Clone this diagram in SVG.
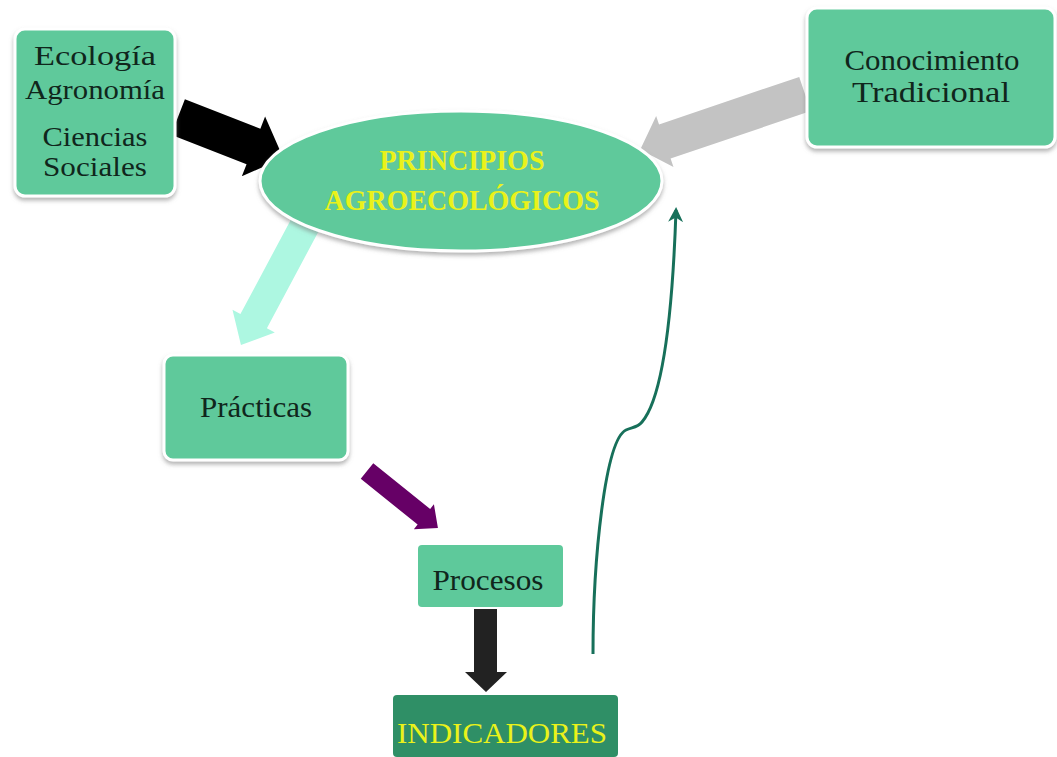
<svg xmlns="http://www.w3.org/2000/svg" width="1057" height="757" viewBox="0 0 1057 757">
<defs>
<filter id="sh" x="-20%" y="-20%" width="140%" height="150%">
<feDropShadow dx="0" dy="3" stdDeviation="2" flood-color="#777" flood-opacity="0.55"/>
</filter>
<marker id="ah" viewBox="0 0 10 10" refX="8" refY="5" markerWidth="5" markerHeight="5" orient="auto" markerUnits="strokeWidth">
<path d="M0,0 L10,5 L0,10 L3,5 Z" fill="#17705a"/>
</marker>
<style>
.node{fill:#5ec99b;stroke:#fff;stroke-width:3;filter:url(#sh)}
.t{font-family:"Liberation Serif","Times New Roman",serif;font-size:30px;fill:#10261c;text-anchor:middle}
.s{font-size:27px}
.y{font-family:"Liberation Serif","Times New Roman",serif;font-size:30px;fill:#eaf21a;text-anchor:middle}
.b{font-weight:bold}
</style>
</defs>
<rect width="1057" height="757" fill="#fff"/>
<g id="connectors">
<polygon points="0,-19 81,-19 81,-32 113,0 81,32 81,19 0,19" fill="#000" transform="translate(178,117) rotate(21.3)"/>
<polygon points="0,-18 148,-18 148,-27 174,0 148,27 148,18 0,18" fill="#c3c3c3" transform="translate(805,94) rotate(161.3)"/>
<polygon points="0,-15 109,-15 109,-24 136,0 109,24 109,15 0,15" fill="#adf7e1" transform="translate(305,225) rotate(118.1)"/>
<polygon points="0,-10 73,-10 73,-16 91,0 73,16 73,10 0,10" fill="#660066" transform="translate(367,471) rotate(38.8)"/>
<polygon points="474,609 497,609 497,672 507,672 486,692 465,672 474,672" fill="#222"/>
<path d="M593,654 C593,560 605,440 626,430 C632,427 637,428 642,422 C665,395 673,300 676,210" fill="none" stroke="#17705a" stroke-width="3" marker-end="url(#ah)"/>
</g>
<g id="n-ecologia">
<rect class="node" x="15" y="29" width="160" height="167" rx="10"/>
<text class="t s" x="95" y="65" textLength="122" lengthAdjust="spacingAndGlyphs">Ecología</text>
<text class="t s" x="95" y="99" textLength="140" lengthAdjust="spacingAndGlyphs">Agronomía</text>
<text class="t s" x="95" y="146" textLength="105" lengthAdjust="spacingAndGlyphs">Ciencias</text>
<text class="t s" x="95" y="176" textLength="104" lengthAdjust="spacingAndGlyphs">Sociales</text>
</g>
<g id="n-conocimiento">
<rect class="node" x="807" y="8" width="248" height="139" rx="10"/>
<text class="t" x="932" y="70" textLength="175" lengthAdjust="spacingAndGlyphs">Conocimiento</text>
<text class="t" x="931" y="102" textLength="158" lengthAdjust="spacingAndGlyphs">Tradicional</text>
</g>
<g id="n-principios">
<ellipse class="node" cx="461" cy="181" rx="201" ry="70"/>
<text class="y b" x="462" y="170" textLength="165" lengthAdjust="spacingAndGlyphs">PRINCIPIOS</text>
<text class="y b" x="462" y="210" textLength="275" lengthAdjust="spacingAndGlyphs">AGROECOLÓGICOS</text>
</g>
<g id="n-practicas">
<rect class="node" x="164" y="355" width="184" height="105" rx="9"/>
<text class="t" x="256" y="417" textLength="112" lengthAdjust="spacingAndGlyphs">Prácticas</text>
</g>
<g id="n-procesos">
<rect x="418" y="545" width="145" height="62" rx="4" fill="#5ec99b"/>
<text class="t" x="488" y="590" textLength="111" lengthAdjust="spacingAndGlyphs">Procesos</text>
</g>
<g id="n-indicadores">
<rect x="393" y="695" width="225" height="62" rx="4" fill="#2f8f66"/>
<text class="y" x="502" y="743" textLength="210" lengthAdjust="spacingAndGlyphs">INDICADORES</text>
</g>
</svg>
